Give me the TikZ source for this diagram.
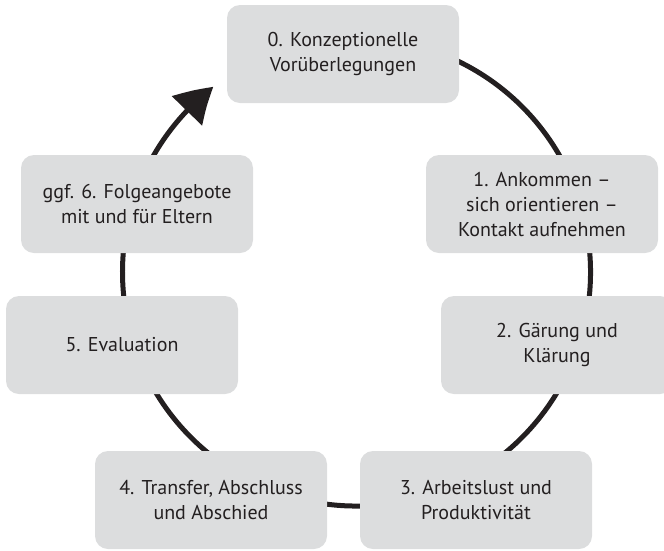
\documentclass[tikz,border=0pt]{standalone}
\usepackage{fontspec}
\setmainfont{PT Sans}
\usetikzlibrary{arrows.meta,bending}
\definecolor{ink}{HTML}{231F20}
\definecolor{boxgray}{HTML}{DCDDDE}
\begin{document}
\begin{tikzpicture}[x=1pt,y=1pt,
  stage/.style={rectangle, rounded corners=13pt, fill=boxgray, draw=none,
    minimum width=232pt, minimum height=98pt, inner sep=0pt,
    align=center, text=ink, font=\fontsize{20}{25}\selectfont},
  cycleline/.style={draw=ink, line width=5pt,
    -{Triangle[length=36pt,width=41pt,bend]}}]
\useasboundingbox (0,0) rectangle (664,-550);
\coordinate (ctr) at (356.5,-272);
\draw[cycleline] ([shift={(100:234)}]ctr) arc[start angle=100, end angle=-232.3, radius=234];
\node[stage] (s0) at (343,-54) {0. Konzeptionelle\\Vorüberlegungen};
\node[stage] (s1) at (542,-204) {1. Ankommen –\\sich orientieren –\\Kontakt aufnehmen};
\node[stage] (s2) at (557,-345) {2. Gärung und\\Klärung};
\node[stage] (s3) at (476,-500) {3. Arbeitslust und\\Produktivität};
\node[stage] (s4) at (211,-500) {4. Transfer, Abschluss\\und Abschied};
\node[stage] (s5) at (122,-345) {5. Evaluation};
\node[stage] (s6) at (137,-204) {ggf. 6. Folgeangebote\\mit und für Eltern};
\end{tikzpicture}
\end{document}
